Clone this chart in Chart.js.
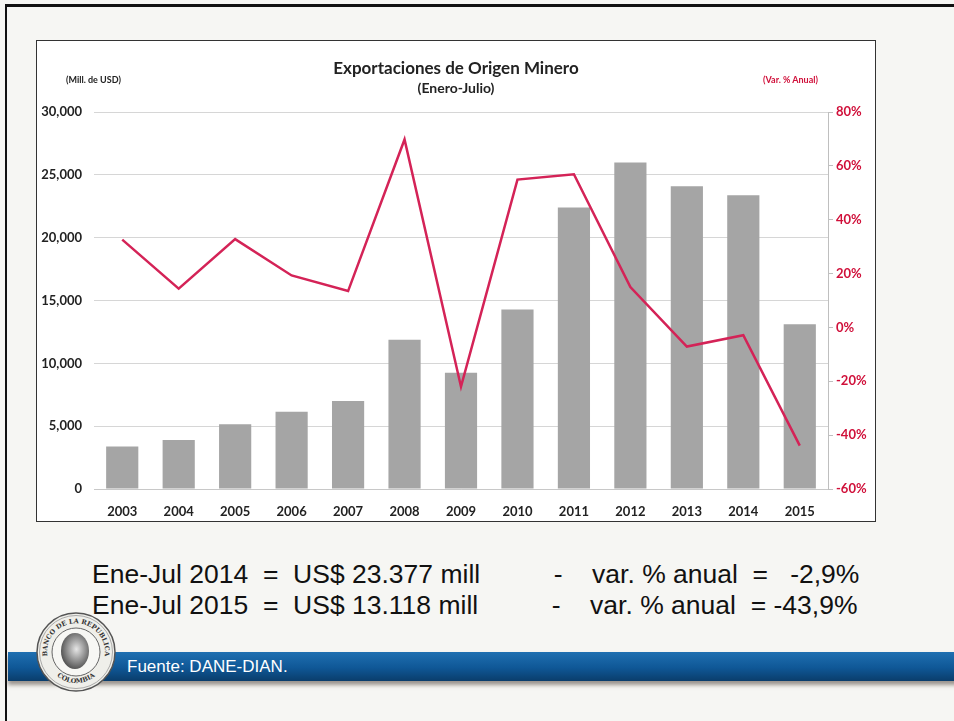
<!DOCTYPE html>
<html>
<head>
<meta charset="utf-8">
<script src="https://cdn.jsdelivr.net/npm/chart.js@4.4.1/dist/chart.umd.min.js"></script>
<style>
  body{margin:0;width:954px;height:721px;background:#f6f6f3;position:relative;overflow:hidden;font-family:Lato,"Open Sans",sans-serif;}
  .slide{position:absolute;left:5px;top:4px;width:960px;height:730px;border-left:2px solid #111;border-top:3px solid #111;}
  .box{position:absolute;left:36px;top:40px;width:838px;height:480px;background:#fff;border:1px solid #333;}
  .box canvas{position:absolute;left:0;top:0;}
  .ttl{position:absolute;left:0;width:838px;text-align:center;font-weight:bold;color:#222;}
  .unit{position:absolute;top:33px;font-size:9px;font-weight:bold;}
  .info{position:absolute;left:92px;font-family:"Liberation Sans",Arial,sans-serif;font-size:25px;color:#111;white-space:pre;transform:scaleX(1.06);transform-origin:0 0;}
  .band{position:absolute;left:8px;top:652px;width:950px;height:29px;background:linear-gradient(#1f6fb1,#0f5796 55%,#0a3d6b);box-shadow:0 4px 4px rgba(80,70,60,0.55);}
  .src{position:absolute;left:127px;top:657px;color:#fff;font-family:"Liberation Sans",Arial,sans-serif;font-size:17px;}
  .logo{position:absolute;left:34px;top:611px;}
</style>
</head>
<body>
<div class="slide"></div>
<div class="box">
  <canvas id="myChart" width="838" height="480"></canvas>
  <div class="ttl" style="top:16px;font-size:17px;">Exportaciones de Origen Minero</div>
  <div class="ttl" style="top:38px;font-size:14px;">(Enero-Julio)</div>
  <div class="unit" style="left:29px;color:#222;">(Mill. de USD)</div>
  <div class="unit" style="left:726px;color:#d0103a;">(Var. % Anual)</div>
</div>
<div class="info" style="top:560px;">Ene-Jul 2014  =  US$ 23.377 mill          -    var. % anual  =   -2,9%</div>
<div class="info" style="top:591px;">Ene-Jul 2015  =  US$ 13.118 mill          -    var. % anual  = -43,9%</div>
<div class="band"></div>
<div class="src">Fuente: DANE-DIAN.</div>
<svg class="logo" width="84" height="82" viewBox="0 0 84 82">
  <defs>
    <path id="arcTop" d="M 14.7 51 A 29 29 0 1 1 69.3 51"/>
    <path id="arcBot" d="M 16 56 A 29 29 0 0 0 68 56"/>
    <radialGradient id="face" cx="0.55" cy="0.45" r="0.6"><stop offset="0" stop-color="#e6e6e6"/><stop offset="1" stop-color="#4a4a4a"/></radialGradient>
  </defs>
  <circle cx="42" cy="41" r="39" fill="#efefea" stroke="#555" stroke-width="1.5"/>
  <circle cx="42" cy="41" r="36.5" fill="none" stroke="#999" stroke-width="0.8"/>
  <circle cx="42" cy="41" r="24" fill="#f7f7f4" stroke="#666" stroke-width="1"/>
  <ellipse cx="41" cy="40" rx="14" ry="18" fill="url(#face)"/>
  <text font-family="DejaVu Serif" font-size="6.5" font-weight="bold" fill="#333"><textPath href="#arcTop" startOffset="50%" text-anchor="middle">BANCO DE LA REPUBLICA</textPath></text>
  <text font-family="DejaVu Serif" font-size="6.5" font-weight="bold" fill="#333"><textPath href="#arcBot" startOffset="50%" text-anchor="middle">COLOMBIA</textPath></text>
</svg>
<script>
// datos (Enero-Julio, millones de USD y variación anual %)
var years=['2003','2004','2005','2006','2007','2008','2009','2010','2011','2012','2013','2014','2015'];
var exportsValues=[3380,3890,5160,6150,7000,11870,9260,14290,22400,25990,24100,23377,13118];
var annualVar=[32.6,14.4,32.8,19.3,13.5,69.8,-22,54.9,56.9,15,-7.1,-2.9,-43.9];

var tickFont={family:'Lato',size:13,weight:'bold'};

var canvas=document.getElementById('myChart').getContext('2d');
var myChart=new Chart(canvas,{
    data:{
        labels:years,
        datasets:[
            {
                type:'line',
                label:'Var. % Anual',
                data:annualVar,
                yAxisID:'y1',
                borderColor:'#d42357',
                borderWidth:2.5,
                pointRadius:0,
                tension:0,
                order:0
            },
            {
                type:'bar',
                label:'Mill. de USD',
                data:exportsValues,
                yAxisID:'y',
                backgroundColor:'#a5a5a5',
                categoryPercentage:1,
                barPercentage:0.57,
                order:1
            }
        ]
    },
    options:{
        responsive:false,
        animation:false,
        layout:{padding:{top:71,left:0,right:0,bottom:0}},
        plugins:{legend:{display:false},tooltip:{enabled:false}},
        scales:{
            x:{
                grid:{display:false},
                border:{display:true,color:'#c8c8c8'},
                ticks:{color:'#222',font:tickFont,padding:7},
                afterFit:function(s){s.height=32;}
            },
            y:{
                position:'left',
                min:0,max:30000,
                ticks:{stepSize:5000,color:'#222',font:tickFont,padding:12,
                    callback:function(v){return v.toLocaleString('en-US');}},
                grid:{color:'#d6d6d6',drawTicks:false},
                border:{display:false},
                afterFit:function(s){s.width=57;}
            },
            y1:{
                position:'right',
                min:-60,max:80,
                ticks:{stepSize:20,color:'#d0103a',font:tickFont,padding:3,
                    callback:function(v){return v+'%';}},
                grid:{drawOnChartArea:false,color:'#bfbfbf',tickLength:5},
                border:{display:true,color:'#bfbfbf'},
                afterFit:function(s){s.width=47;}
            }
        }
    }
});
</script>
</body>
</html>
